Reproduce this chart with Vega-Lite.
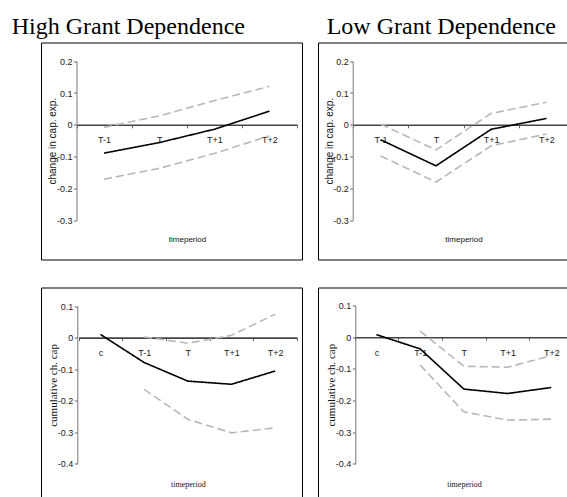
{
  "$schema": "https://vega.github.io/schema/vega-lite/v6.json",
  "padding": {"left": 11, "top": 14.5, "right": 0, "bottom": 0},
  "autosize": {"type": "pad"},
  "bounds": "flush",
  "columns": 2,
  "align": "each",
  "spacing": {"row": 28, "column": 16},
  "config": {
    "view": {"stroke": "#000000", "strokeWidth": 1},
    "axis": {
      "grid": false, "domainColor": "#777777", "tickColor": "#666666", "tickSize": 3,
      "labelFont": "Liberation Sans", "labelFontSize": 9, "labelColor": "#1a1a1a",
      "titleFont": "Liberation Sans", "titleFontWeight": "normal", "titleColor": "#111111",
      "labelFlush": false, "labelOverlap": false, "labelBound": false
    },
    "axisX": {"domainColor": "#444444", "domainWidth": 1.6},
    "title": {"font": "Liberation Serif", "fontSize": 24, "fontWeight": "normal", "anchor": "start", "color": "#000000", "baseline": "alphabetic", "offset": 3.5, "frame": "group"}
  },
  "data": {"values": [
    {"panel": "HT", "period": "T-1", "t": -1, "series": "mean", "value": -0.089},
    {"panel": "HT", "period": "T", "t": 0, "series": "mean", "value": -0.056},
    {"panel": "HT", "period": "T+1", "t": 1, "series": "mean", "value": -0.014},
    {"panel": "HT", "period": "T+2", "t": 2, "series": "mean", "value": 0.043},
    {"panel": "HT", "period": "T-1", "t": -1, "series": "upper", "value": -0.008},
    {"panel": "HT", "period": "T", "t": 0, "series": "upper", "value": 0.028},
    {"panel": "HT", "period": "T+1", "t": 1, "series": "upper", "value": 0.076},
    {"panel": "HT", "period": "T+2", "t": 2, "series": "upper", "value": 0.121},
    {"panel": "HT", "period": "T-1", "t": -1, "series": "lower", "value": -0.171},
    {"panel": "HT", "period": "T", "t": 0, "series": "lower", "value": -0.137},
    {"panel": "HT", "period": "T+1", "t": 1, "series": "lower", "value": -0.090},
    {"panel": "HT", "period": "T+2", "t": 2, "series": "lower", "value": -0.035},
    {"panel": "LT", "period": "T-1", "t": -1, "series": "mean", "value": -0.047},
    {"panel": "LT", "period": "T", "t": 0, "series": "mean", "value": -0.129},
    {"panel": "LT", "period": "T+1", "t": 1, "series": "mean", "value": -0.014},
    {"panel": "LT", "period": "T+2", "t": 2, "series": "mean", "value": 0.020},
    {"panel": "LT", "period": "T-1", "t": -1, "series": "upper", "value": 0.002},
    {"panel": "LT", "period": "T", "t": 0, "series": "upper", "value": -0.079},
    {"panel": "LT", "period": "T+1", "t": 1, "series": "upper", "value": 0.036},
    {"panel": "LT", "period": "T+2", "t": 2, "series": "upper", "value": 0.071},
    {"panel": "LT", "period": "T-1", "t": -1, "series": "lower", "value": -0.098},
    {"panel": "LT", "period": "T", "t": 0, "series": "lower", "value": -0.180},
    {"panel": "LT", "period": "T+1", "t": 1, "series": "lower", "value": -0.066},
    {"panel": "LT", "period": "T+2", "t": 2, "series": "lower", "value": -0.029},
    {"panel": "HB", "period": "c", "t": -2, "series": "mean", "value": 0.010},
    {"panel": "HB", "period": "T-1", "t": -1, "series": "mean", "value": -0.079},
    {"panel": "HB", "period": "T", "t": 0, "series": "mean", "value": -0.138},
    {"panel": "HB", "period": "T+1", "t": 1, "series": "mean", "value": -0.148},
    {"panel": "HB", "period": "T+2", "t": 2, "series": "mean", "value": -0.106},
    {"panel": "HB", "period": "T-1", "t": -1, "series": "upper", "value": 0.002},
    {"panel": "HB", "period": "T", "t": 0, "series": "upper", "value": -0.018},
    {"panel": "HB", "period": "T+1", "t": 1, "series": "upper", "value": 0.007},
    {"panel": "HB", "period": "T+2", "t": 2, "series": "upper", "value": 0.074},
    {"panel": "HB", "period": "T-1", "t": -1, "series": "lower", "value": -0.164},
    {"panel": "HB", "period": "T", "t": 0, "series": "lower", "value": -0.259},
    {"panel": "HB", "period": "T+1", "t": 1, "series": "lower", "value": -0.302},
    {"panel": "HB", "period": "T+2", "t": 2, "series": "lower", "value": -0.286},
    {"panel": "LB", "period": "c", "t": -2, "series": "mean", "value": 0.008},
    {"panel": "LB", "period": "T-1", "t": -1, "series": "mean", "value": -0.037},
    {"panel": "LB", "period": "T", "t": 0, "series": "mean", "value": -0.164},
    {"panel": "LB", "period": "T+1", "t": 1, "series": "mean", "value": -0.178},
    {"panel": "LB", "period": "T+2", "t": 2, "series": "mean", "value": -0.159},
    {"panel": "LB", "period": "T-1", "t": -1, "series": "upper", "value": 0.019},
    {"panel": "LB", "period": "T", "t": 0, "series": "upper", "value": -0.092},
    {"panel": "LB", "period": "T+1", "t": 1, "series": "upper", "value": -0.095},
    {"panel": "LB", "period": "T+2", "t": 2, "series": "upper", "value": -0.058},
    {"panel": "LB", "period": "T-1", "t": -1, "series": "lower", "value": -0.088},
    {"panel": "LB", "period": "T", "t": 0, "series": "lower", "value": -0.236},
    {"panel": "LB", "period": "T+1", "t": 1, "series": "lower", "value": -0.262},
    {"panel": "LB", "period": "T+2", "t": 2, "series": "lower", "value": -0.259}
  ]},
  "concat": [
    {
      "width": 261, "height": 217,
      "title": {"text": "High Grant Dependence", "dx": -29.3},
      "transform": [{"filter": "datum.panel == 'HT'"}],
      "mark": {"type": "line", "strokeWidth": 1.6},
      "encoding": {
        "x": {"field": "t", "type": "quantitative",
          "scale": {"domain": [-1.5, 2.5], "range": [35.5, 256], "nice": false, "zero": false},
          "axis": {"values": [-1.5, -0.5, 0.5, 1.5, 2.5], "labelExpr": "datum.value < -1 ? 'T-1' : datum.value < 0 ? 'T' : datum.value < 1 ? 'T+1' : datum.value < 2 ? 'T+2' : ''",
            "labelOffset": 27.6, "labelPadding": 7.5, "offset": -134.7,
            "title": "timeperiod", "titleFontSize": 8, "titleX": 146, "titleY": 114.3, "titleBaseline": "middle"}},
        "y": {"field": "value", "type": "quantitative",
          "scale": {"domain": [-0.3, 0.2], "range": [177.7, 18.7], "nice": false, "zero": false},
          "axis": {"values": [-0.3, -0.2, -0.1, 0, 0.1, 0.2], "labelExpr": "datum.value == 0 ? '0' : (datum.value < 0 ? '-' : '') + format(abs(datum.value), '.1f')",
            "labelPadding": 1.5, "offset": -35.5,
            "title": "change in cap. exp.", "titleFontSize": 10, "titleX": -24, "titleBaseline": "middle"}},
        "color": {"field": "series", "type": "nominal", "scale": {"domain": ["mean", "upper", "lower"], "range": ["#000000", "#b8b8b8", "#b8b8b8"]}, "legend": null},
        "strokeDash": {"field": "series", "type": "nominal", "scale": {"domain": ["mean", "upper", "lower"], "range": [[1, 0], [8, 4], [8, 4]]}, "legend": null}
      }
    },
    {
      "width": 249, "height": 217,
      "view": {"stroke": "#000000", "strokeDash": [249, 217, 466, 0]},
      "title": {"text": "Low Grant Dependence", "dx": 8.7},
      "transform": [{"filter": "datum.panel == 'LT'"}],
      "mark": {"type": "line", "strokeWidth": 1.6},
      "encoding": {
        "x": {"field": "t", "type": "quantitative",
          "scale": {"domain": [-1.5, 2.37], "range": [35, 249], "nice": false, "zero": false},
          "axis": {"values": [-1.5, -0.5, 0.5, 1.5], "labelExpr": "datum.value < -1 ? 'T-1' : datum.value < 0 ? 'T' : datum.value < 1 ? 'T+1' : datum.value < 2 ? 'T+2' : ''",
            "labelOffset": 27.6, "labelPadding": 7.5, "offset": -134.7,
            "title": "timeperiod", "titleFontSize": 8, "titleX": 145.5, "titleY": 114.3, "titleBaseline": "middle"}},
        "y": {"field": "value", "type": "quantitative",
          "scale": {"domain": [-0.3, 0.2], "range": [177.7, 18.7], "nice": false, "zero": false},
          "axis": {"values": [-0.3, -0.2, -0.1, 0, 0.1, 0.2], "labelExpr": "datum.value == 0 ? '0' : (datum.value < 0 ? '-' : '') + format(abs(datum.value), '.1f')",
            "labelPadding": 1.5, "offset": -34.7,
            "title": "change in cap. exp.", "titleFontSize": 10, "titleX": -23, "titleBaseline": "middle"}},
        "color": {"field": "series", "type": "nominal", "scale": {"domain": ["mean", "upper", "lower"], "range": ["#000000", "#b8b8b8", "#b8b8b8"]}, "legend": null},
        "strokeDash": {"field": "series", "type": "nominal", "scale": {"domain": ["mean", "upper", "lower"], "range": [[1, 0], [8, 4], [8, 4]]}, "legend": null}
      }
    },
    {
      "width": 261, "height": 209,
      "view": {"stroke": "#000000", "strokeDash": [470, 261, 209, 0]},
      "transform": [{"filter": "datum.panel == 'HB'"}],
      "mark": {"type": "line", "strokeWidth": 1.6},
      "encoding": {
        "x": {"field": "t", "type": "quantitative",
          "scale": {"domain": [-2.5, 2.5], "range": [37.6, 256], "nice": false, "zero": false},
          "axis": {"values": [-2.5, -1.5, -0.5, 0.5, 1.5, 2.5], "labelExpr": "datum.value < -2 ? 'c' : datum.value < -1 ? 'T-1' : datum.value < 0 ? 'T' : datum.value < 1 ? 'T+1' : datum.value < 2 ? 'T+2' : ''",
            "labelOffset": 21.85, "labelPadding": 8, "offset": -158.9,
            "title": "timeperiod", "titleFont": "Liberation Serif", "titleFontSize": 8, "titleX": 146.8, "titleY": 146.7, "titleBaseline": "middle"}},
        "y": {"field": "value", "type": "quantitative",
          "scale": {"domain": [-0.4, 0.1], "range": [176.3, 18.5], "nice": false, "zero": false},
          "axis": {"values": [-0.4, -0.3, -0.2, -0.1, 0, 0.1], "labelExpr": "datum.value == 0 ? '0' : (datum.value < 0 ? '-' : '') + format(abs(datum.value), '.1f')",
            "labelPadding": 1.5, "offset": -36.3,
            "title": "cumulative ch. cap", "titleFont": "Liberation Serif", "titleFontSize": 11, "titleX": -23.5, "titleBaseline": "middle"}},
        "color": {"field": "series", "type": "nominal", "scale": {"domain": ["mean", "upper", "lower"], "range": ["#000000", "#b8b8b8", "#b8b8b8"]}, "legend": null},
        "strokeDash": {"field": "series", "type": "nominal", "scale": {"domain": ["mean", "upper", "lower"], "range": [[1, 0], [8, 4], [8, 4]]}, "legend": null}
      }
    },
    {
      "width": 249, "height": 209,
      "view": {"stroke": "#000000", "strokeDash": [249, 458, 209, 0]},
      "transform": [{"filter": "datum.panel == 'LB'"}],
      "mark": {"type": "line", "strokeWidth": 1.6},
      "encoding": {
        "x": {"field": "t", "type": "quantitative",
          "scale": {"domain": [-2.5, 2.36], "range": [36.6, 249], "nice": false, "zero": false},
          "axis": {"values": [-2.5, -1.5, -0.5, 0.5, 1.5], "labelExpr": "datum.value < -2 ? 'c' : datum.value < -1 ? 'T-1' : datum.value < 0 ? 'T' : datum.value < 1 ? 'T+1' : datum.value < 2 ? 'T+2' : ''",
            "labelOffset": 21.85, "labelPadding": 8, "offset": -159.3,
            "title": "timeperiod", "titleFont": "Liberation Serif", "titleFontSize": 8, "titleX": 146, "titleY": 147.3, "titleBaseline": "middle"}},
        "y": {"field": "value", "type": "quantitative",
          "scale": {"domain": [-0.4, 0.1], "range": [176.3, 18], "nice": false, "zero": false},
          "axis": {"values": [-0.4, -0.3, -0.2, -0.1, 0, 0.1], "labelExpr": "datum.value == 0 ? '0' : (datum.value < 0 ? '-' : '') + format(abs(datum.value), '.1f')",
            "labelPadding": 1.5, "offset": -37.3,
            "title": "cumulative ch. cap", "titleFont": "Liberation Serif", "titleFontSize": 11, "titleX": -24, "titleBaseline": "middle"}},
        "color": {"field": "series", "type": "nominal", "scale": {"domain": ["mean", "upper", "lower"], "range": ["#000000", "#b8b8b8", "#b8b8b8"]}, "legend": null},
        "strokeDash": {"field": "series", "type": "nominal", "scale": {"domain": ["mean", "upper", "lower"], "range": [[1, 0], [8, 4], [8, 4]]}, "legend": null}
      }
    }
  ]
}
